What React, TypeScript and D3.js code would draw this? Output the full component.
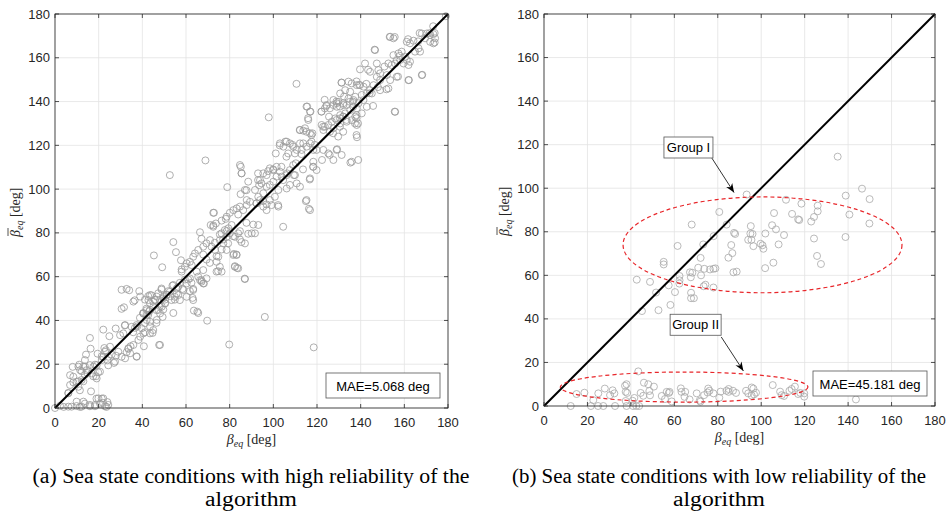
import React from "react";
import * as d3 from "d3";

const TICKS = [0, 20, 40, 60, 80, 100, 120, 140, 160, 180];
const DIAG = [0, 180];

const LEFT_PTS: [number, number][] = [
  [0,0],[2.3,1],[4,0.5],[6.1,0.6],[7.6,0.6],[9.9,0.9],[11.4,0.5],[12.2,0.6],[13.7,2],[16,0.8],[16,1.4],[18.3,0.8],[18.3,1.4],[19,4.3],[20.6,2],[21.4,4.3],[22,2.3],[22.9,0.8],[24,2.7],[23.6,0.5],[24.4,1.4],[19.9,4.4],[16.5,7.6],[13,2.9],[9.9,2.9],[22.1,4.4],
  [6.1,6.9],[6.9,15],[8.1,18.8],[8.4,11.7],[10.7,12.2],[11.1,19.8],[12.2,16.8],[11.4,8.1],[13,12.2],[13.7,19],[14.2,24.4],[14.8,16],[16,32],[16.3,27.1],[17.5,14.5],[18.3,19.8],[18.8,14.5],[19.5,24.8],[19.8,16.3],[21.4,23.6],[22.1,35.8],[22.6,27.4],[23.3,26.4],[24,21.8],[24.4,19.5],[24.9,32.8],[25.9,24.4],[27,20.6],[27.8,36.3],[27.9,23.9],
  [30.5,45.3],[31.6,46],[30.5,54],[32.8,54.4],[34,53.8],[32,37.7],[32.8,25.5],[33.6,27],[34.6,28.2],[35.8,34.6],[36.6,36.6],[37.4,23.6],[36.5,49.2],[38.6,53.4],[37.7,37.3],[38.9,41.2],[40.4,43.4],[40.7,28.2],[41.2,49.5],[41.9,45.4],[41.2,34.6],[42.7,51.1],[43.2,44.2],[43.5,37.3],[44.2,51.5],[44.7,34.3],[45.3,69.7],[45.8,49.5],[46.5,38.9],[47.7,28.8],[48,46.5],[48.8,54.1],[49.1,64.3],[49.3,41.6],[49.6,45],[50.3,49.5],[51.1,51.8],[51.9,53.4],[52.9,51.1],[53.8,55.9],[54.2,75.8],[54.2,43.4],[54.9,49.5],[55.4,71.2],[55.7,52.3],[56.4,55.3],[57.2,57.2],[57.7,67.5],[58,63.3],[58.4,54.4],[59.5,58.7],[61,58.7],[61.8,53.4],[62.5,57.2],[63,50.3],[63.3,54.4],[63.6,44.5],[65.6,43.4],[66.4,80.3],[67.1,77.3],[67.1,58.4],[68.2,56.9],[69.7,39.9],[67.9,70.1],[69.4,67.8],[70.9,66.3],[72.5,89.2],[72.5,83.4],[73.2,75.5],[74,69.4],[74.7,62.5],[75.5,79.3],[76.3,72.4],[77,77],[78.2,86.4],[78.6,80.8],[79.3,75.2],[79.8,29],[81.6,78.5],[81.9,70.4],[82.4,64.8],[83.4,64],[83.1,70.1],[83.9,88.4],[84.7,80.8],[85.4,75.8],[86.9,59.1],[87.7,84.6],[88.5,79.6],[90.8,83.8],[95.3,94.5],[96.9,93],[102.2,92.7],[104.5,82.8],[96.1,41.6],[114.9,94.5],[116.3,91],[118.5,27.7],
  [11.5,17.3],[13,18.9],[8.4,14.3],[9.9,12],[12.2,12.8],[13.7,15.1],[14.5,17.3],[16.8,15.8],[17.6,18.9],[19.1,19.6],[20.6,16.6],[19.1,13.5],[21.4,21.9],[22.9,25.7],[24.4,23.4],[22.1,23.4],[25.2,28],[27.5,21.2],[29,25.7],[30.5,23.4],[32.1,22.7],[33.6,27.3],[34.4,25],[37.4,23.4],[35.9,28.8],[38.2,31.1],[39,32.6],[39.7,36.4],[41.2,38.7],[42,40.2],[43.5,39.4],[45,35.6],[46.6,40.2],[47.3,44.8],[48.1,43.2],[48.9,46.3],[50.4,47.8],[42,42.5],[40.5,34.1],[43.5,34.1],[48.1,28.8],[37.4,37.9],[35.1,37.1],[32.1,37.9],[31.3,34.1],[29.8,33.3],[40.5,43.2],[43.5,44.8],[45,48.6],[49.6,50.1],[46.6,50.9],[43.5,51.6],[39,50.9],[35.9,48.6],[42.8,49.3],[6.1,6.7],[6.9,10.5],[10.7,9.7],[16,19.6],[13.7,21.9],[10.7,18.9],
  [71.3,83.6],[72.5,82.8],[73.7,84.3],[72.8,89.2],[76.3,85.6],[78.6,87.4],[80.1,89.2],[81.7,90.4],[83.2,91.2],[84.7,92],[86.2,90.4],[87.8,92.7],[89.3,94.2],[92.3,93.5],[82.4,78.2],[83.9,79.8],[84.7,77],[87,75.2],[90.1,79.8],[91.6,79.8],[93.1,83.6],[81.7,69.9],[83.2,69.9],[82.4,64.5],[83.9,63.8],[87,58.9],[64.9,62.3],[67.9,63],[65.6,60],[69.4,59.2],[67.9,56.9],[63.3,53.9],[65.2,44],[58,62.3],[59.5,64.5],[60.3,66.1],[61.8,66.8],[62.6,65.3],[63.3,69.1],[64.1,70.6],[65.6,72.2],[67.9,73.7],[69.4,75.2],[71,76.7],[71.7,73.7],[73.3,72.2],[74.8,69.1],[74,66.8],[75.5,64.5],[76.3,62.3],[74,62.3],[77.1,75.2],[78.6,78.2],[80.1,79.8],[76.3,79.8],[77.8,81.3],[79.4,82.1],[80.9,83.6],[75.5,76.7],[78.6,72.2],[54.2,56.2],[55.7,54.6],[52.6,53.1],[51.1,51.6],[49.6,50.8],[48.1,49.3],[48.8,54.6],[47.3,52.4],[45.8,49.3],[45,46.3],[43.5,47.8],[42,44.7],[40.4,43.2],[42.7,42.5],[46.5,44.7],[50.4,47.8],[53.4,49.3],[54.9,50.8],[56.5,51.6],[57.2,49.3],[60.3,56.9],[61.8,59.2],[58.8,53.9],[60.3,50.8],[63.3,49.3],[66.4,58.4],[67.1,57.7],
  [115.2,137.7],[116.8,135.4],[116,131.6],[122.1,135.4],[123.6,136.9],[124.4,138.4],[125.9,136.9],[127.5,138.4],[129,139.2],[130.5,137.7],[132,139.2],[133.6,138.4],[135.1,139.9],[136.6,137.7],[138.1,133.8],[137.4,130],[138.1,124.7],[122.1,129.3],[123.6,128.5],[125.2,129.3],[122.9,127],[125.9,126.2],[127.5,127.8],[129,131.6],[130.5,132.3],[132,133.1],[133.6,131.6],[130.5,128.5],[132,126.2],[129.7,124],[112.2,127],[113.7,126.7],[115.2,126.2],[116.8,125.5],[114.5,127.8],[117.5,124.7],[103,120.9],[104.6,119.4],[106.1,121.7],[107.6,120.9],[109.1,119.4],[109.9,116.3],[106.8,116.3],[110.7,117.9],[112.2,120.9],[113,117.9],[113.7,120.9],[115.2,119.4],[116.8,120.9],[118.3,117.9],[117.5,121.7],[119.8,117.9],[122.9,117.9],[125.2,116.3],[129,117.9],[131.3,115.6],[127.5,113.3],[135.9,112.5],[138.9,113.3],[118.3,112.5],[118.3,110.2],[119.8,108.7],[116.8,104.9],[115.2,95],[116.8,90.4],[112.2,101.1],[110.7,102.6],
  [84.7,111],[85.5,107.2],[87,99.6],[87.8,95],[91.6,99.6],[93.1,96.5],[93.9,104.1],[94.6,102.6],[95.4,107.2],[96.9,106.4],[98.4,109.5],[100,108.7],[101.5,110.2],[103,108],[103.8,105.7],[101.5,105.7],[100,103.4],[98.4,101.9],[96.9,101.1],[95.4,98.1],[93.9,95],[92.3,93.5],[95.4,92],[96.9,90.4],[99.2,92.7],[102.3,92],[104.5,104.1],[106.1,106.4],[107.6,108.7],[109.1,111],[109.9,106.4],[107.6,101.9],[106.1,100.3],[102.3,99.6],[100.7,96.5],[98.4,95],
  [153.5,169.6],[155,168.9],[146.6,163.5],[161.1,167.3],[162.6,166.6],[164.2,167.8],[168,171.1],[170.3,171.1],[171.8,170.4],[173.3,170.8],[174.1,168.9],[171.8,167.3],[173.3,166.6],[169.5,168.9],[166.5,164.3],[164.9,162.8],[167.2,162.8],[155,161.2],[157.3,162],[158.8,162.8],[160.4,160.5],[161.1,159],[162.6,158.2],[158.1,159],[156.5,159],[155.8,157.4],[159.6,157.4],[161.9,156.7],[154.2,156.7],[152.7,157.4],[142,157.4],[147.4,157.4],[148.1,154.4],[148.9,152.9],[144.3,153.6],[139.7,154.7],[147.4,151.3],[148.9,149.8],[152,152.1],[153.5,149.8],[156.5,151.3],[161.9,149.8],[168,152.1],[131.3,148.6],[134.4,149.1],[135.9,148.3],[138.2,147.5],[139.7,147.5],[141.3,146.8],[144.3,145.2],[145.9,147.5],[145.1,143.7],[142.8,143.7],[140.5,143],[137.5,142.2],[135.2,144.5],[132.9,145.2],[130.6,143.7],[152.7,146],[148.9,145.2],[155.8,135.3],[127.5,140.7],[129.8,139.9],[129.1,137.6],[132.1,138.4],[134.4,141.4],[136.7,140.7],[139,139.2],[141.3,140.7],[142.8,137.6],[138.2,136.9],[135.2,136.1],[132.9,134.6],[130.6,133.8],[128.3,132.3],[126.8,130.8],[130.6,130],[133.6,130.8],[137.5,133.1],[140.5,134.6],[135.9,131.5],[138.2,129.3],[179,179],
  [52.6,106.4],[68.9,113.1],[78.9,100.9],[85.1,110.2],[85.4,107.2],[85,97.7],[87.7,99.5],[88.5,103.4],[93,107.2],[93,104.1],[93.5,101.8],[97.6,108.2],[97.9,132.8],[99.9,109],[101.1,116.3],[102.9,120],[105.5,121.7],[103.7,110.2],[106,114.8],[106.3,107.2],[108.8,120.2],[110.3,111.8],[110.6,148.1],[109.4,106.4],[112.1,127],[112.9,116],[113.6,109],[115.5,137.7],[115.9,132.4],[116.7,104.4],[117,135.4],[117.9,125.5],[118.2,110.2],[119,120.2],[122,135.4],[122.3,113.3],[122.8,128.5],[123.5,140.8],[124.3,138],[125.5,133.1],[125.8,115.6],[127.4,125.5],[128.9,140],[129.2,118.2],[131.2,148.7],[132,133.1],[132.4,142.3],[135.3,112.1],[136.5,140],[138.1,149.2],[138.1,132.4],[138.3,123.7],[138.8,130],[139.3,147.6],[142.6,148.1],[143.4,154.5],[144.1,143.8],[145.7,138],[146.4,163.7],[147.9,146.6],[150.9,156],[151.8,145.6],[153.3,169.5],[155.6,169.5],[155.6,135.4],[157.1,151.4],[157.9,160.9],[161.7,168.5],[162.1,149.8],[166.3,167.5],[168.2,152.2],[167,171.3],[171.6,171.3],[173.9,171.3],[173.9,167],[173.2,174.4]
];

const RIGHT_PTS: [number, number][] = [
  [135.2,114.5],[93.3,97.1],[138.9,96.6],[146.4,99.8],[149.9,95],[111.4,94.7],[118.5,92.9],[126,92],[126,89.4],[105.9,88.6],[80.7,89.1],[114.2,88.2],[117,85.7],[117.5,85.4],[124.3,86.8],[123,84.7],[140.6,87.9],[149.8,83.8],[68,83.3],[84.1,83.3],[95.2,82.6],[105,83],[106.8,81.1],[87.5,79.5],[88,79],[95,79.2],[96,79],[101.9,79.2],[110.5,78.5],[124.3,76.9],[138.8,77.6],[94,76.3],[95.5,76.3],[99.7,74.5],[100.6,73.8],[101,72.2],[96.4,73.4],[108,74.2],[61.5,73.5],[78.1,78],[73.3,74.2],[86.2,73.9],[86.7,70.2],[84.9,68.1],[72.1,68],[125.7,68.9],[127.5,65.2],[105.6,65.8],[101.8,63.3],[55.1,66.2],[55.1,65],[71,63.5],[73.8,63],[76.4,62.7],[78,63],[78.9,63.2],[67.2,61.4],[68.3,61.2],[72.3,60],[67.6,59.1],[62.4,59.7],[62.4,57.7],[87.2,61.4],[88.7,61.7],[42.7,58],[48.8,57],[57.4,55.4],[62.3,56.2],[73.5,55],[74.3,55.7],[78,54.4],[60.3,52.3],[51.6,52.1],[67.7,52],[67.7,49.5],[69,49.5],[58.2,46.4],[52.7,44],[45.1,43.6],
  [12.3,0],[15,5.5],[18.6,6.1],[21.6,0],[24.9,0],[27.3,0],[22.7,2.7],[25,5.8],[28,8],[30.4,5],[31.6,7.2],[32.4,5.8],[32.7,0],[37.3,9.3],[38,10],[37.6,6.5],[38.3,6],[37.6,2.3],[38,0],[41,0],[42.5,0],[43.8,0],[40.8,2.4],[41.6,3.7],[43.4,15.9],[44.5,6],[45.7,4.7],[46,10.7],[48,10],[48.5,6.9],[48.8,4.9],[50.6,8.9],[54.2,4.6],[55.7,3.2],[56.5,6.5],[57.5,6],[57.8,6.5],[58.8,2.1],[63,8.1],[63.3,6.5],[65,6.5],[64.7,4.2],[67,3],[70.3,5.8],[71.7,2.5],[72,2],[73.7,5],[75.6,8],[76.2,7],[75.3,6.2],[78,5.8],[80.7,3.8],[81.3,6.6],[84,7],[85,7.8],[85,6.5],[87,7],[88.4,6],[93,7],[94,5.8],[95.6,8.5],[96.4,8],[96.7,5.3],[95.6,4.8],[97.6,6.1],[105.3,9.6],[108.7,6.6],[109.4,5],[110.5,4.6],[113,7],[114,7.8],[115.5,8.9],[117,5.5],[118,6],[119.8,4.3],[119.8,5.8],[143.6,3]
];

const MAE_A = "MAE=5.068 deg";
const MAE_B = "MAE=45.181 deg";
const CAPTION_A = ["(a) Sea state conditions with high reliability of the", "algorithm"];
const CAPTION_B = ["(b) Sea state conditions with low reliability of the", "algorithm"];

// ellipses in data units: [cx, cy, rx, ry]
const ELLIPSES: [number, number, number, number][] = [
  [100.6, 74, 64.2, 22],
  [64.5, 8.7, 57, 6.9],
];
// group annotations: label, box center (data), arrow start (data), arrow end (data)
const GROUPS: { label: string; c: [number, number]; from: [number, number]; to: [number, number] }[] = [
  { label: "Group I", c: [66.5, 118.7], from: [77.3, 113.8], to: [87.5, 98.0] },
  { label: "Group II", c: [69.8, 37.3], from: [81.6, 31.7], to: [91.8, 16.1] },
];

const SANS = "'Liberation Sans', Arial, Helvetica, sans-serif";
const SERIF = "'Liberation Serif', 'Times New Roman', serif";
const AX = "#262626";

type PanelProps = {
  left: number; right: number; top: number; bottom: number;
  pts: [number, number][]; mae: string; caption: string[]; capX: number; capW: number[]; stroke: string;
  extras?: boolean;
};

function Panel({ left, right, top, bottom, pts, mae, caption, capX, capW, stroke, extras }: PanelProps) {
  const xs = d3.scaleLinear().domain([0, 180]).range([left, right]);
  const ys = d3.scaleLinear().domain([0, 180]).range([bottom, top]);
  const line = d3.line<number>().x((d) => xs(d)).y((d) => ys(d));
  const mid = (left + right) / 2;
  const tl = 4;
  return (
    <g>
      <rect x={left} y={top} width={right - left} height={bottom - top} fill="#fff" />
      {TICKS.map((t) => (
        <g key={"g" + t}>
          <line x1={xs(t)} x2={xs(t)} y1={top} y2={bottom} stroke="#e3e3e3" strokeWidth={0.8} />
          <line x1={left} x2={right} y1={ys(t)} y2={ys(t)} stroke="#e3e3e3" strokeWidth={0.8} />
        </g>
      ))}
      {pts.map((p, i) => (
        <circle key={i} cx={xs(p[0])} cy={ys(p[1])} r={3.5} fill="none" stroke={stroke} strokeWidth={0.8} />
      ))}
      <path d={line(DIAG) || ""} stroke="#000" strokeWidth={2} fill="none" />
      {extras && ELLIPSES.map((e, i) => (
        <ellipse key={"e" + i} cx={xs(e[0])} cy={ys(e[1])} rx={xs(e[2]) - xs(0)} ry={ys(0) - ys(e[3])}
          fill="none" stroke="#e8262a" strokeWidth={1.2} strokeDasharray="4,3" />
      ))}
      {extras && GROUPS.map((g, i) => {
        const cx = xs(g.c[0]);
        const cy = ys(g.c[1]);
        const w = g.label.length > 7 ? 51 : 49;
        return (
          <g key={"gr" + i}>
            <line x1={xs(g.from[0])} y1={ys(g.from[1])} x2={xs(g.to[0])} y2={ys(g.to[1])} stroke="#000" strokeWidth={0.8} markerEnd="url(#arr)" />
            <rect x={cx - w / 2} y={cy - 10.5} width={w} height={21} fill="#fff" stroke="#555" strokeWidth={0.8} />
            <text x={cx} y={cy + 4.5} textAnchor="middle" fontFamily={SANS} fontSize={13} fill="#000">{g.label}</text>
          </g>
        );
      })}
      <rect x={left} y={top} width={right - left} height={bottom - top} fill="none" stroke={AX} strokeWidth={0.8} />
      {TICKS.map((t) => (
        <g key={"t" + t}>
          <line x1={xs(t)} x2={xs(t)} y1={bottom} y2={bottom - tl} stroke={AX} strokeWidth={0.8} />
          <line x1={xs(t)} x2={xs(t)} y1={top} y2={top + tl} stroke={AX} strokeWidth={0.8} />
          <line x1={left} x2={left + tl} y1={ys(t)} y2={ys(t)} stroke={AX} strokeWidth={0.8} />
          <line x1={right} x2={right - tl} y1={ys(t)} y2={ys(t)} stroke={AX} strokeWidth={0.8} />
          <text x={xs(t)} y={bottom + 19} textAnchor="middle" fontFamily={SANS} fontSize={13} fill={AX}>{t}</text>
          <text x={left - 5} y={ys(t) + 4.5} textAnchor="end" fontFamily={SANS} fontSize={13} fill={AX}>{t}</text>
        </g>
      ))}
      {/* MAE box */}
      <rect x={right - 122} y={bottom - 35} width={114} height={25} fill="#fff" stroke="#555" strokeWidth={0.8} />
      <text x={right - 65} y={bottom - 17.5} textAnchor="middle" fontFamily={SANS} fontSize={13} fill="#000">{mae}</text>
      {/* x label */}
      <text x={mid} y={bottom + 36} textAnchor="middle" fontFamily={SERIF} fontSize={14} fill={AX}>
        <tspan fontStyle="italic">β</tspan>
        <tspan fontStyle="italic" fontSize={10} dy={3}>eq</tspan>
        <tspan dy={-3}> [deg]</tspan>
      </text>
      {/* y label */}
      <g transform={`translate(${left - 35},${(top + bottom) / 2}) rotate(-90)`}>
        <text x={-26} y={0} fontFamily={SERIF} fontSize={14} fill={AX}>
          <tspan fontStyle="italic">β</tspan>
          <tspan fontStyle="italic" fontSize={10} dy={3}>eq</tspan>
          <tspan dy={-3}> [deg]</tspan>
        </text>
        <line x1={-25} x2={-17} y1={-12} y2={-12} stroke={AX} strokeWidth={0.8} />
      </g>
      {caption.map((c, i) => (
        <text key={"c" + i} x={capX} y={483 + i * 23} textAnchor="middle" fontFamily={SERIF} fontSize={20}
          textLength={capW[i]} lengthAdjust="spacingAndGlyphs" fill="#000">{c}</text>
      ))}
    </g>
  );
}

export default function App() {
  return (
    <svg width={949} height={516} style={{ position: "absolute", left: 0, top: 0, background: "#fff" }}>
      <defs>
        <marker id="arr" viewBox="0 0 10 10" refX={10} refY={5} markerWidth={9} markerHeight={9} orient="auto" markerUnits="userSpaceOnUse">
          <path d="M0,1 L10,5 L0,9 L3,5 Z" fill="#000" />
        </marker>
      </defs>
      <rect width={949} height={516} fill="#fff" />
      <Panel left={55} right={448} top={14} bottom={408} pts={LEFT_PTS} mae={MAE_A} caption={CAPTION_A} capX={251} capW={[437, 92]} stroke="#9a9a9a" />
      <Panel left={544} right={935} top={14} bottom={406} pts={RIGHT_PTS} mae={MAE_B} caption={CAPTION_B} capX={719} capW={[414, 92]} stroke="#a8a8a8" extras />
    </svg>
  );
}
